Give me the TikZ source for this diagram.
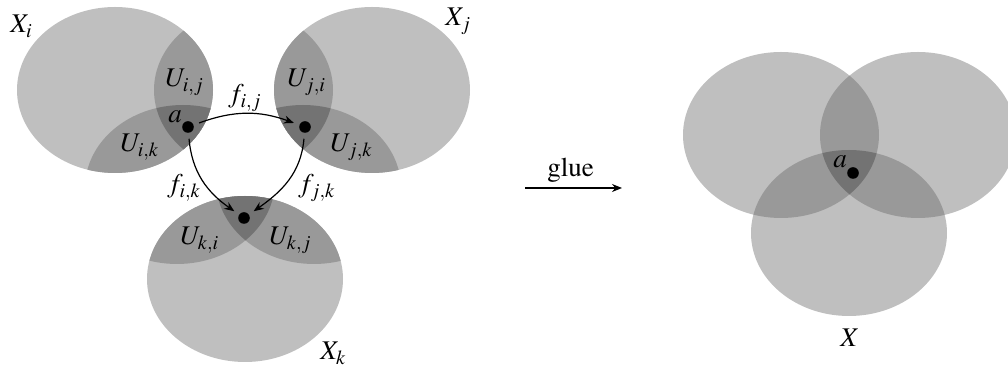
\documentclass[tikz,border=0pt]{standalone}
\usepackage{mathptmx}
\usetikzlibrary{arrows.meta}
\definecolor{cone}{gray}{0.75}
\definecolor{ctwo}{gray}{0.6}
\definecolor{cthree}{gray}{0.45}
\tikzset{
  dot/.style={circle, fill=black, inner sep=0pt, minimum size=5.8pt, outer sep=3pt},
  lbl/.style={inner sep=0pt, anchor=base west, font=\fontsize{13.5}{16}\selectfont},
  map/.style={-{Stealth[length=5pt,width=4pt]}, line width=0.6pt},
  ell/.style={x radius=49pt, y radius=41.5pt},
}
% glued frame: A=(0,0), B=(137,0), C=(68,98)
\newcommand\pieceE[4]{% #1 shift, #2 own centre, #3 other1, #4 other2
  \begin{scope}[shift={#1}]
    \fill[cone] #2 ellipse[ell];
    \begin{scope}
      \clip #2 ellipse[ell];
      \fill[ctwo] #3 ellipse[ell];
      \fill[ctwo] #4 ellipse[ell];
      \clip #3 ellipse[ell];
      \fill[cthree] #4 ellipse[ell];
    \end{scope}
  \end{scope}}
\begin{document}
\begin{tikzpicture}[x=0.5pt,y=-0.5pt]
\useasboundingbox (0,0) rectangle (1008,368);
\begin{scope}
\clip (0,0) rectangle (1008,368);
% left: separate pieces
\pieceE{(115,90)}{(0,0)}{(137,0)}{(68,98)}
\pieceE{(235,90)}{(137,0)}{(0,0)}{(68,98)}
\pieceE{(177,181)}{(68,98)}{(0,0)}{(137,0)}
% right: glued
\begin{scope}[shift={(781,135)}]
  \fill[cone] (0,0) ellipse[ell];
  \fill[cone] (137,0) ellipse[ell];
  \fill[cone] (68,98) ellipse[ell];
  \begin{scope}
    \clip (0,0) ellipse[ell];
    \fill[ctwo] (137,0) ellipse[ell];
    \fill[ctwo] (68,98) ellipse[ell];
  \end{scope}
  \begin{scope}
    \clip (137,0) ellipse[ell];
    \fill[ctwo] (68,98) ellipse[ell];
    \clip (0,0) ellipse[ell];
    \fill[cthree] (68,98) ellipse[ell];
  \end{scope}
\end{scope}
\end{scope}
% dots
\node[dot] (di) at (188,127) {};
\node[dot] (dj) at (305,127) {};
\node[dot] (dk) at (244,218) {};
\node[dot] (dx) at (853,173) {};
% maps
\draw[map] (di) to[bend left=20] (dj);
\draw[map] (di) to[out=-85, in=145] (dk);
\draw[map] (dj) to[out=-95, in=35] (dk);
% glue arrow
\coordinate (gs) at (525,188);
\coordinate (ge) at (622,188);
\draw[map] (gs) -- (ge);
\node[lbl] (glue) at (547,177) {\fontencoding{OT1}\fontfamily{ptm}\selectfont glue};
% labels
\node[lbl] (lXi) at (10,33) {$X_i$};
\node[lbl] (lXj) at (445,26) {$X_j$};
\node[lbl] (lXk) at (320,360) {$X_k$};
\node[lbl] (lX) at (840,347) {$X$};
\node[lbl] (lUij) at (165,87) {$U_{i,j}$};
\node[lbl] (lUik) at (120,152) {$U_{i,k}$};
\node[lbl] (lUji) at (287,87) {$U_{j,i}$};
\node[lbl] (lUjk) at (330,152) {$U_{j,k}$};
\node[lbl] (lUki) at (180,245) {$U_{k,i}$};
\node[lbl] (lUkj) at (269,245) {$U_{k,j}$};
\node[lbl] (lfij) at (228,103) {$f_{i,j}$};
\node[lbl] (lfik) at (167,193) {$f_{i,k}$};
\node[lbl] (lfjk) at (298,193) {$f_{j,k}$};
\node[lbl] (la) at (168,123) {$a$};
\node[lbl] (la2) at (833,168) {$a$};
\end{tikzpicture}
\end{document}
